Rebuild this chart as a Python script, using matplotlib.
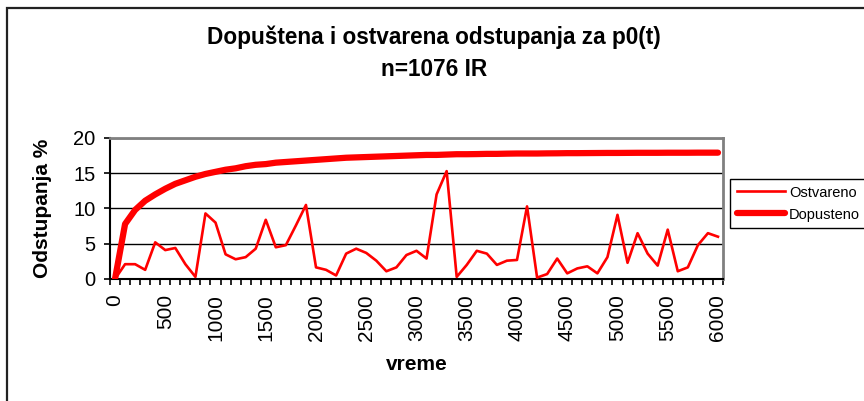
import matplotlib.pyplot as plt
from matplotlib.patches import Rectangle

plt.rcParams['font.family'] = ['Liberation Sans', 'DejaVu Sans']

# vreme (0..6000, korak 100)
vreme = list(range(0, 6100, 100))

# ostvarena odstupanja (%)
ostvareno = [0.0, 2.1, 2.1, 1.3, 5.2, 4.1, 4.4, 2.1, 0.3, 9.3,
             8.0, 3.5, 2.8, 3.1, 4.3, 8.4, 4.5, 4.8, 7.6, 10.5,
             1.65, 1.3, 0.5, 3.6, 4.3, 3.7, 2.6, 1.1, 1.65, 3.4,
             4.0, 2.9, 12.0, 15.3, 0.3, 2.0, 4.0, 3.6, 2.0, 2.6,
             2.7, 10.3, 0.2, 0.7, 2.9, 0.8, 1.5, 1.8, 0.8, 3.1,
             9.1, 2.3, 6.5, 3.6, 1.9, 7.0, 1.1, 1.65, 4.8, 6.5,
             6.0]

# dopustena odstupanja (%)
dopusteno = [0.0, 7.8, 9.8, 11.1, 12.0, 12.8, 13.5, 14.0, 14.5, 14.9,
             15.2, 15.5, 15.7, 16.0, 16.2, 16.3, 16.5, 16.6, 16.7, 16.8,
             16.9, 17.0, 17.1, 17.2, 17.25, 17.3, 17.35, 17.4, 17.45, 17.5,
             17.55, 17.6, 17.6, 17.65, 17.7, 17.7, 17.72, 17.75, 17.75, 17.78,
             17.8, 17.8, 17.8, 17.82, 17.83, 17.85, 17.85, 17.86, 17.87, 17.88,
             17.88, 17.89, 17.9, 17.9, 17.9, 17.91, 17.91, 17.91, 17.92, 17.92,
             17.92]

W, H = 864, 401
fig = plt.figure(figsize=(W / 100, H / 100), dpi=100)
ax = fig.add_axes([110 / W, 1 - 279 / H, 613 / W, 141 / H])

ax.plot(vreme, ostvareno, color='#ff0000', lw=1.9, label='Ostvareno', zorder=3)
ax.plot(vreme, dopusteno, color='#ff0000', lw=4.5, label='Dopusteno',
        solid_capstyle='round', zorder=3)

ax.set_xlim(-50, 6050)
ax.set_ylim(0, 20)

# y osa
ax.set_yticks([0, 5, 10, 15, 20])
ax.tick_params(axis='y', direction='out', length=4.5, width=1.2, pad=6, labelsize=14.5)
ax.yaxis.grid(True, color='black', lw=1)
ax.set_axisbelow(True)

# x osa: oznake svakih 500, crtice izmedju kategorija
ax.set_xticks(list(range(0, 6001, 500)))
ax.set_xticklabels([str(v) for v in range(0, 6001, 500)], rotation=90)
ax.set_xticks([v - 50 for v in range(0, 6200, 100)], minor=True)
ax.tick_params(axis='x', which='major', length=0, pad=11, labelsize=15)
ax.tick_params(axis='x', which='minor', direction='out', length=4.5, width=1.2)

for s in ['top', 'right']:
    ax.spines[s].set_color('#808080')
    ax.spines[s].set_linewidth(2)
for s in ['left', 'bottom']:
    ax.spines[s].set_color('black')
    ax.spines[s].set_linewidth(1.5)

ax.set_ylabel('Odstupanja %', fontsize=15, fontweight='bold')
ax.yaxis.set_label_coords(-0.095, 0.5)
ax.set_xlabel('vreme', fontsize=15, fontweight='bold')
ax.xaxis.set_label_coords(0.5, -0.54)

fig.text(434 / W, 1 - 37 / H, 'Dopuštena i ostvarena odstupanja za p0(t)',
         ha='center', va='center', fontsize=16.3, fontweight='bold')
fig.text(434 / W, 1 - 70 / H, 'n=1076 IR',
         ha='center', va='center', fontsize=16.3, fontweight='bold')

leg = fig.legend(loc='upper left', bbox_to_anchor=(730 / W, 1 - 179 / H),
                 fontsize=10.5, frameon=True, fancybox=False, framealpha=1,
                 edgecolor='black', handlelength=3.3, handletextpad=0.3,
                 borderpad=0.45, labelspacing=0.55, borderaxespad=0)
leg.get_frame().set_linewidth(1)

# okvir oko cele slike
fig.add_artist(Rectangle((7 / W, -0.05), 1.0, 1 - 8 / H + 0.05, transform=fig.transFigure,
                         fill=False, edgecolor='#222222', lw=1.6))

fig.savefig('out.png', dpi=100)
